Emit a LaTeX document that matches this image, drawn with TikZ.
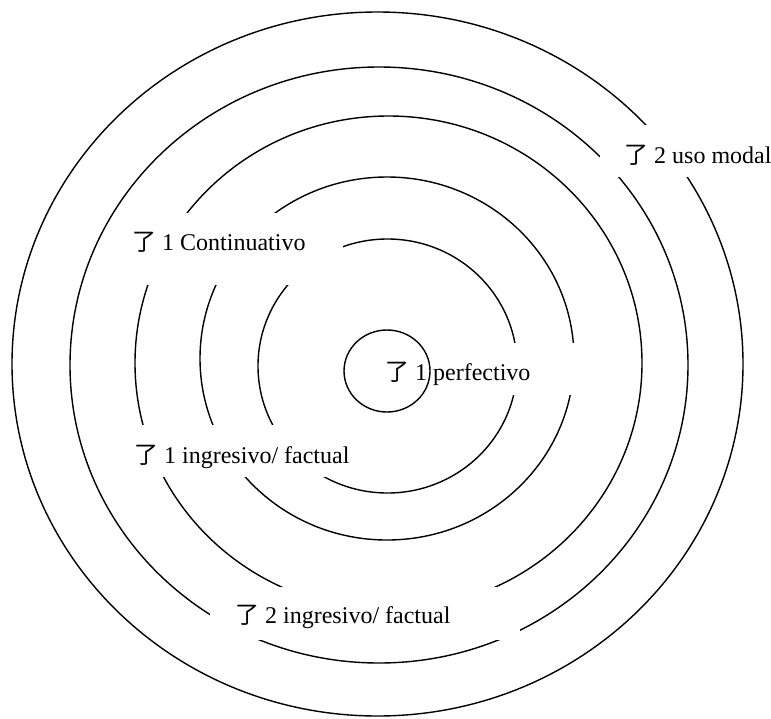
\documentclass[tikz,border=0pt]{standalone}
\usepackage{fontspec}
\setmainfont{Liberation Serif}
\newfontfamily\cjk{Noto Sans CJK SC}

\begin{document}
\begin{tikzpicture}[
        x=1pt, y=-1pt,
        font=\fontsize{24}{28}\selectfont,
        ring/.style ={draw, line width=1.4pt},
        mask/.style ={fill=white},
        lbl/.style  ={anchor=base west, inner sep=0pt},
    ]
    \useasboundingbox (0,0) rectangle (771,718);

    %% Rings, outside in
    \draw[ring] (377.5,364) ellipse [x radius=365.5pt, y radius=352pt];
    \draw[ring] (379,365)   ellipse [x radius=309pt,   y radius=298pt];
    \draw[ring] (388.5,363) ellipse [x radius=253.5pt, y radius=247pt];
    \draw[ring] (387,358.5) ellipse [x radius=187pt,   y radius=181.5pt];
    \draw[ring] (387.5,366) ellipse [x radius=129.5pt, y radius=127pt];

    %% White text boxes that cut the rings
    \fill[mask] (600,125) rectangle (771,177);   % uso modal
    \fill[mask] (125,213) rectangle (343,285);   % continuativo
    \fill[mask] (400,343) rectangle (600,395);   % perfectivo
    \fill[mask] (125,425) rectangle (355,477);   % ingresivo 1
    \fill[mask] (210,587) rectangle (520,640);   % ingresivo 2

    %% Centre ring
    \draw[ring] (387,371) ellipse [x radius=43pt, y radius=41pt];

    %% Labels
    \node[lbl] (modal) at (624,163) {{\cjk 了} 2 uso modal};
    \node[lbl] (cont)  at (132,250) {{\cjk 了} 1 Continuativo};
    \node[lbl] (perf)  at (385,380) {{\cjk 了} 1 perfectivo};
    \node[lbl] (ingr1) at (134,463) {{\cjk 了} 1 ingresivo/ factual};
    \node[lbl] (ingr2) at (235,623) {{\cjk 了} 2 ingresivo/ factual};

\end{tikzpicture}
\end{document}
